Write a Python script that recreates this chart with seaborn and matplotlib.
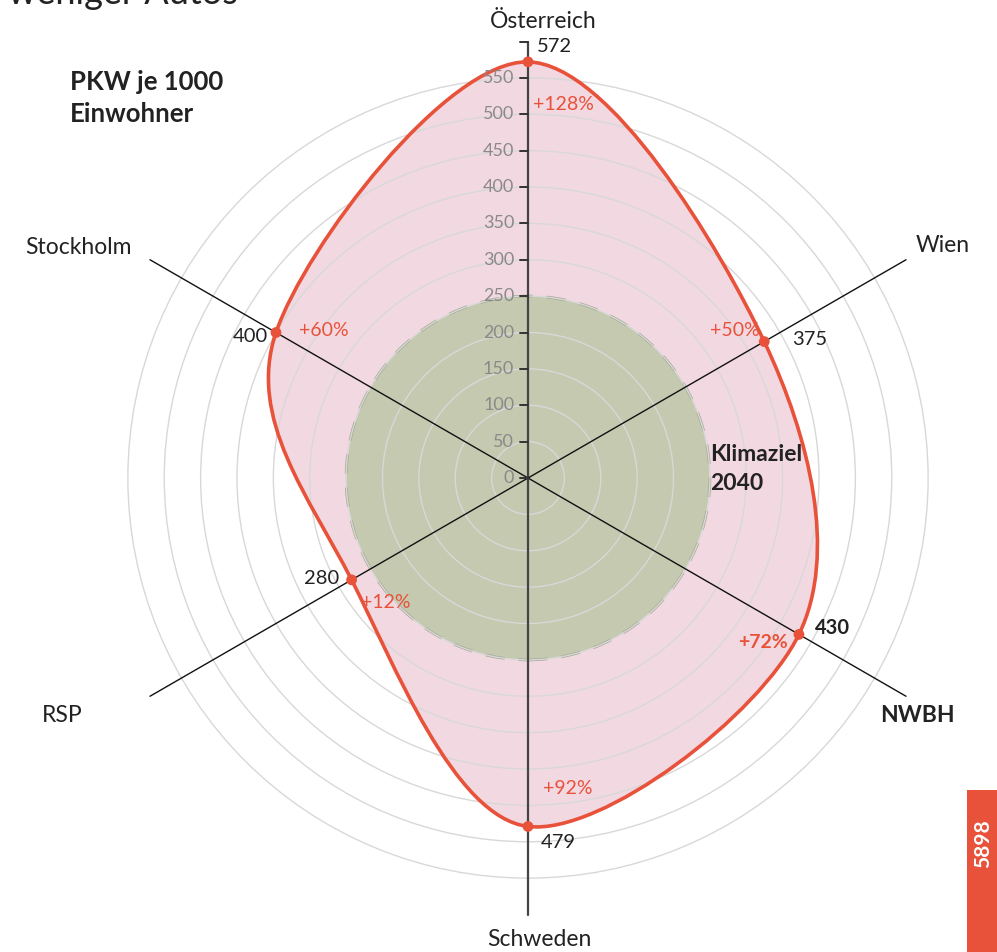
import numpy as np
import pandas as pd
import seaborn as sns
import matplotlib.pyplot as plt
from matplotlib.path import Path
from matplotlib.patches import PathPatch, Circle, Rectangle

# data
regions = ["Österreich", "Wien", "NWBH", "Schweden", "RSP", "Stockholm"]
pkw = [572, 375, 430, 479, 280, 400]
pct_labels = ["+128%", "+50%", "+72%", "+92%", "+12%", "+60%"]
angles_deg = [90, 30, -30, -90, -150, 150]
klimaziel = 250
ring_values = list(range(50, 551, 50))
tick_values = list(range(0, 601, 50))
tick_labels = [str(v) for v in range(0, 551, 50)]

RED = "#e8523a"
PINK = "#f2d8e1"
GREEN = "#c4c9b0"
DARK = "#222222"

sns.set_theme(style="white")
plt.rcParams["font.family"] = ["Lato", "DejaVu Sans"]

W, H = 997, 952
cx, cy, s = 528, 478, 0.7275  # centre pixel, pixels per unit

fig = plt.figure(figsize=(W / 100, H / 100), dpi=100)
ax = fig.add_axes([0, 0, 1, 1])
ax.set_xlim(-cx / s, (W - cx) / s)
ax.set_ylim(-(H - cy) / s, cy / s)
ax.axis("off")

def fig_xy(x, y):
    return x / W, 1 - y / H

th = np.deg2rad(angles_deg)
df = pd.DataFrame({"region": regions, "value": pkw,
                   "x": np.array(pkw) * np.cos(th), "y": np.array(pkw) * np.sin(th)})

# smooth closed curve (catmull-rom as cubic bezier)
P = df[["x", "y"]].to_numpy()
n = len(P)
verts, codes = [P[0]], [Path.MOVETO]
for i in range(n):
    p0, p1, p2, p3 = P[i - 1], P[i], P[(i + 1) % n], P[(i + 2) % n]
    verts += [p1 + (p2 - p0) / 6, p2 - (p3 - p1) / 6, p2]
    codes += [Path.CURVE4] * 3
path = Path(verts, codes)
ax.add_patch(PathPatch(path, facecolor=PINK, edgecolor="none", zorder=1))

# Klimaziel circle
ax.add_patch(Circle((0, 0), klimaziel, facecolor=GREEN, edgecolor="none", zorder=2))
ax.add_patch(Circle((0, 0), klimaziel, facecolor="none", edgecolor="#a6ab95",
                    lw=2, ls=(0, (7, 5)), zorder=2.5))

# rings
for r in ring_values:
    ax.add_patch(Circle((0, 0), r, facecolor="none", edgecolor="#d8d8d8", lw=1, zorder=3))

# spokes
for a in angles_deg:
    t = np.deg2rad(a)
    if a in (90, -90):
        ax.plot([0, 600 * np.cos(t)], [0, 600 * np.sin(t)], color="#444444", lw=1.6, zorder=4)
    else:
        ax.plot([0, 600 * np.cos(t)], [0, 600 * np.sin(t)], color="#111111", lw=1, zorder=4)

# radial ticks on top axis
for v in tick_values:
    ax.plot([-11, 0], [v, v], color="#333333", lw=1.4, zorder=4)
for lab in tick_labels:
    ax.text(-19, int(lab), lab, ha="right", va="center", fontsize=13, color="#8a8a8a", zorder=6)

# red outline + dots
ax.add_patch(PathPatch(path, facecolor="none", edgecolor=RED, lw=2.6, zorder=5))
sns.scatterplot(data=df, x="x", y="y", ax=ax, color=RED, s=60, edgecolor="none", zorder=6, legend=False)

# region labels
lab_pos = [(543, 22, "center", "normal"), (970, 246, "right", "normal"), (955, 716, "right", "bold"),
           (539, 940, "center", "normal"), (42, 716, "left", "normal"), (25, 247, "left", "normal")]
for name, (x, y, ha, w) in zip(regions, lab_pos):
    fig.text(*fig_xy(x, y), name, ha=ha, va="center", fontsize=16.5, color=DARK, fontweight=w)

# value labels
val_pos = [(537, 47, "left", "normal"), (792, 339, "left", "normal"), (815, 628, "left", "bold"),
           (541, 842, "left", "normal"), (339, 578, "right", "normal"), (268, 336, "right", "normal")]
for v, (x, y, ha, w) in zip(pkw, val_pos):
    fig.text(*fig_xy(x, y), str(v), ha=ha, va="center", fontsize=14.5, color=DARK, fontweight=w)

# percent labels
pct_pos = [(533, 104, "normal"), (710, 331, "normal"), (738, 643, "bold"),
           (543, 788, "normal"), (361, 602, "normal"), (299, 331, "normal")]
for p, (x, y, w) in zip(pct_labels, pct_pos):
    fig.text(*fig_xy(x, y), p, ha="left", va="center", fontsize=14, color=RED, fontweight=w)

fig.text(*fig_xy(710, 469), "Klimaziel\n2040", ha="left", va="center", fontsize=16.5,
         fontweight="bold", color=DARK, linespacing=1.5)
fig.text(*fig_xy(70, 98), "PKW je 1000\nEinwohner", ha="left", va="center", fontsize=18.5,
         fontweight="bold", color=DARK, linespacing=1.4)
fig.text(*fig_xy(8, 4), "weniger Autos", ha="left", va="baseline", fontsize=26, color=DARK)

# side tab
fig.patches.append(Rectangle(fig_xy(967, 952), 30 / W, 162 / H, transform=fig.transFigure,
                             facecolor=RED, edgecolor="none"))
fig.text(*fig_xy(983, 844), "5898", rotation=90, ha="center", va="center", fontsize=15,
         fontweight="bold", color="white")

fig.savefig("out.png", dpi=100)
